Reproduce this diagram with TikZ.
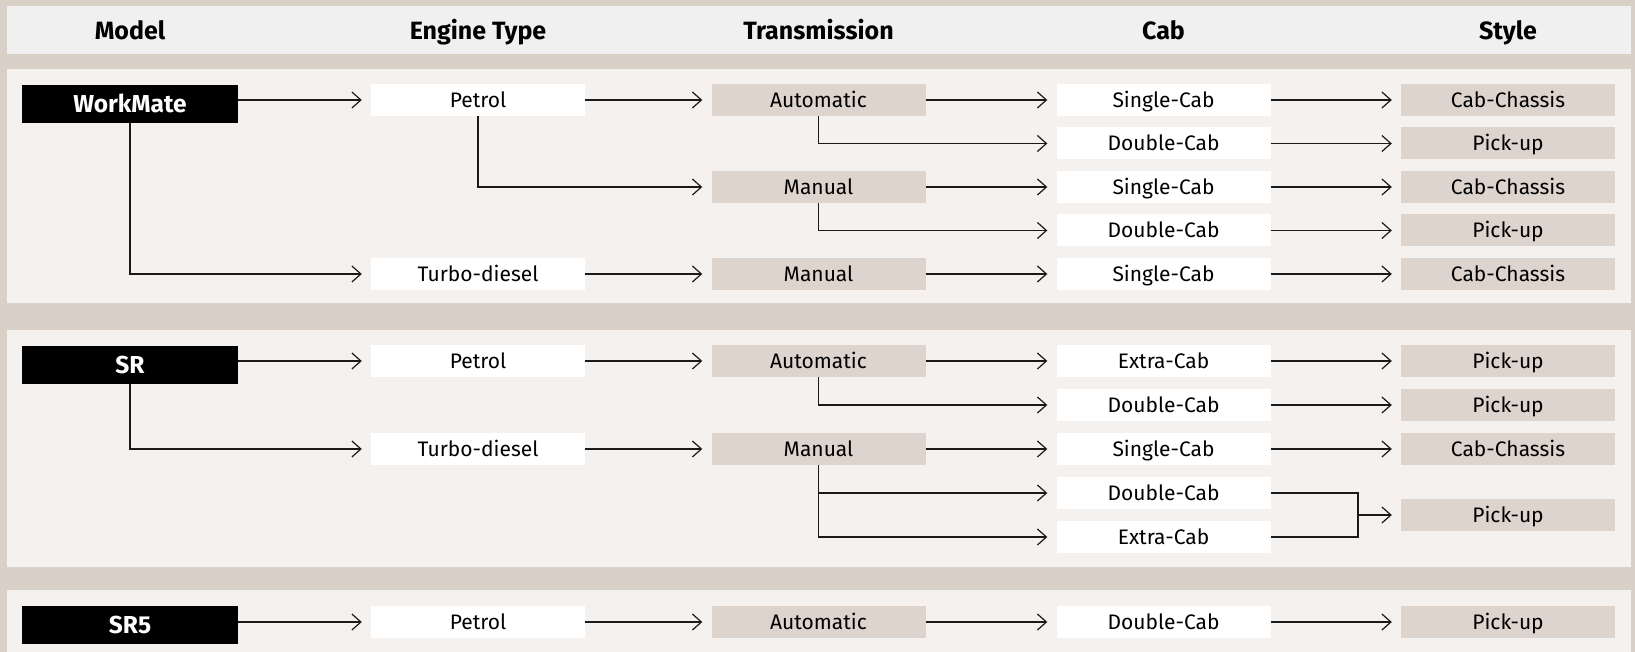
\documentclass[tikz,border=0pt]{standalone}
\usepackage{fontspec}
\setmainfont{Fira Sans}
\usetikzlibrary{arrows.meta}
\definecolor{bgbeige}{HTML}{D9D0C7}
\definecolor{headbg}{HTML}{F0F0F0}
\definecolor{panelbg}{HTML}{F4F1EE}
\definecolor{tanbox}{HTML}{DDD4CD}
\definecolor{linec}{HTML}{1A1A1A}
\begin{document}
\begin{tikzpicture}[x=1pt,y=-1pt,
  box/.style={minimum width=214pt,minimum height=32pt,inner sep=0pt,text height=14.5pt,text depth=0pt,font=\fontsize{21}{21}\selectfont,text=black},
  wbox/.style={box,fill=white},
  tbox/.style={box,fill=tanbox},
  mbox/.style={minimum width=216pt,minimum height=38pt,inner sep=0pt,text height=17pt,text depth=0pt,fill=black,text=white,font=\fontsize{24.5}{24.5}\selectfont\bfseries},
  hdr/.style={inner sep=0pt,text height=17pt,text depth=0pt,font=\fontsize{25}{25}\selectfont\bfseries,text=black},
  conn/.style={draw=linec,line width=1.2pt},
  arr/.style={conn,-{Straight Barb[length=9pt,width=16pt]},shorten >=9pt}]
\useasboundingbox (0,0) rectangle (1635,652);
\fill[bgbeige] (0,0) rectangle (1635,652);
\fill[headbg] (7,6) rectangle (1631,54);
\fill[panelbg] (7,69) rectangle (1631,303);
\fill[panelbg] (7,330) rectangle (1631,567);
\fill[panelbg] (7,590) rectangle (1631,652);
% headers
\node[hdr] (h1) at (130,31) {Model};
\node[hdr] (h2) at (478,31) {Engine Type};
\node[hdr] (h3) at (818.5,31) {Transmission};
\node[hdr] (h4) at (1163.5,31) {Cab};
\node[hdr] (h5) at (1508,31) {Style};
% panel 1
\node[mbox] (wm) at (130,104) {WorkMate};
\node[wbox] (e11) at (478,100) {Petrol};
\node[wbox] (e12) at (478,274) {Turbo-diesel};
\node[tbox] (t11) at (818.5,100) {Automatic};
\node[tbox] (t12) at (818.5,187) {Manual};
\node[tbox] (t13) at (818.5,274) {Manual};
\node[wbox] (c11) at (1163.5,100) {Single-Cab};
\node[wbox] (c12) at (1163.5,143.5) {Double-Cab};
\node[wbox] (c13) at (1163.5,187) {Single-Cab};
\node[wbox] (c14) at (1163.5,230.5) {Double-Cab};
\node[wbox] (c15) at (1163.5,274) {Single-Cab};
\node[tbox] (s11) at (1508,100) {Cab-Chassis};
\node[tbox] (s12) at (1508,143.5) {Pick-up};
\node[tbox] (s13) at (1508,187) {Cab-Chassis};
\node[tbox] (s14) at (1508,230.5) {Pick-up};
\node[tbox] (s15) at (1508,274) {Cab-Chassis};
\draw[arr] (wm.east |- e11.west) -- (e11.west);
\draw[arr] (wm.south) |- (e12.west);
\draw[arr] (e11) -- (t11);
\draw[arr] (e11.south) |- (t12.west);
\draw[arr] (e12) -- (t13);
\draw[arr] (t11) -- (c11);
\draw[arr] (t11.south) |- (c12.west);
\draw[arr] (t12) -- (c13);
\draw[arr] (t12.south) |- (c14.west);
\draw[arr] (t13) -- (c15);
\draw[arr] (c11) -- (s11);
\draw[arr] (c12) -- (s12);
\draw[arr] (c13) -- (s13);
\draw[arr] (c14) -- (s14);
\draw[arr] (c15) -- (s15);
% panel 2
\node[mbox] (sr) at (130,365) {SR};
\node[wbox] (e21) at (478,361) {Petrol};
\node[wbox] (e22) at (478,449) {Turbo-diesel};
\node[tbox] (t21) at (818.5,361) {Automatic};
\node[tbox] (t22) at (818.5,449) {Manual};
\node[wbox] (c21) at (1163.5,361) {Extra-Cab};
\node[wbox] (c22) at (1163.5,405) {Double-Cab};
\node[wbox] (c23) at (1163.5,449) {Single-Cab};
\node[wbox] (c24) at (1163.5,493) {Double-Cab};
\node[wbox] (c25) at (1163.5,537) {Extra-Cab};
\node[tbox] (s21) at (1508,361) {Pick-up};
\node[tbox] (s22) at (1508,405) {Pick-up};
\node[tbox] (s23) at (1508,449) {Cab-Chassis};
\node[tbox] (s24) at (1508,515) {Pick-up};
\draw[arr] (sr.east |- e21.west) -- (e21.west);
\draw[arr] (sr.south) |- (e22.west);
\draw[arr] (e21) -- (t21);
\draw[arr] (e22) -- (t22);
\draw[arr] (t21) -- (c21);
\draw[arr] (t21.south) |- (c22.west);
\draw[arr] (t22) -- (c23);
\draw[arr] (t22.south) |- (c24.west);
\draw[arr] (t22.south) |- (c25.west);
\draw[arr] (c21) -- (s21);
\draw[arr] (c22) -- (s22);
\draw[arr] (c23) -- (s23);
\coordinate (mtop) at (1358,493);
\coordinate (mbot) at (1358,537);
\coordinate (mmid) at (1358,515);
\draw[conn] (c24.east) -- (mtop) -- (mbot) -- (c25.east);
\draw[arr] (mmid) -- (s24.west);
% panel 3
\node[mbox] (sr5) at (130,625) {SR5};
\node[wbox] (e31) at (478,622) {Petrol};
\node[tbox] (t31) at (818.5,622) {Automatic};
\node[wbox] (c31) at (1163.5,622) {Double-Cab};
\node[tbox] (s31) at (1508,622) {Pick-up};
\draw[arr] (sr5.east |- e31.west) -- (e31.west);
\draw[arr] (e31) -- (t31);
\draw[arr] (t31) -- (c31);
\draw[arr] (c31) -- (s31);
\end{tikzpicture}
\end{document}
